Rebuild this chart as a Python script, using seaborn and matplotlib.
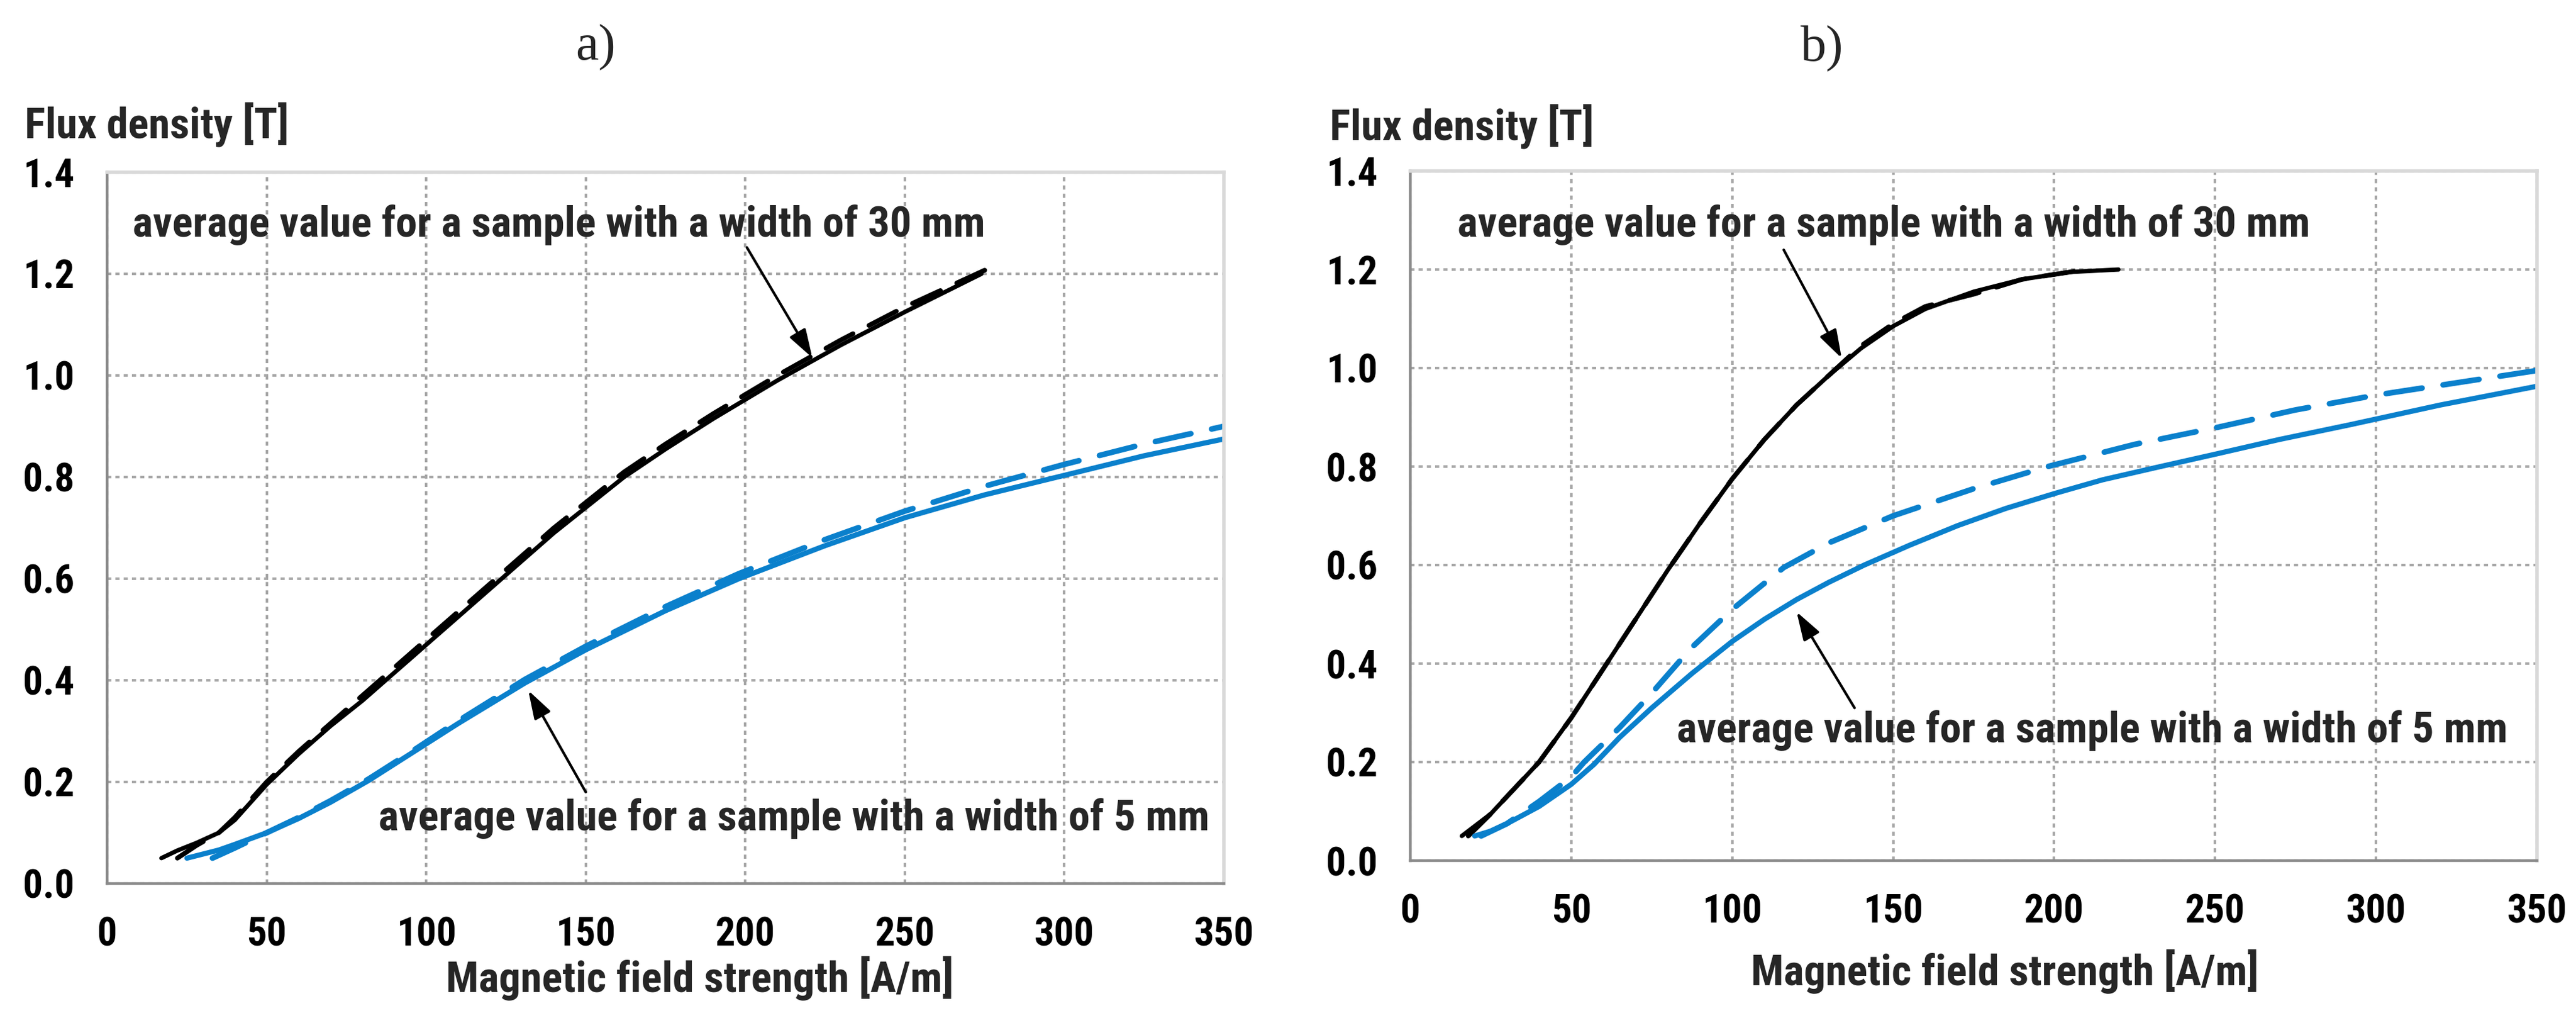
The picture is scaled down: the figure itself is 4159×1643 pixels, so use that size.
import numpy as np
import pandas as pd
import matplotlib
matplotlib.use("Agg")
import matplotlib.pyplot as plt
from matplotlib import font_manager
import seaborn as sns

# ---------------- data ----------------
# Panel a
a_H30_solid = [17, 22, 28, 35, 40, 45, 50, 60, 70, 80, 90, 100, 110, 120, 130, 140, 150, 162, 175, 190, 210, 230, 250, 274]
a_B30_solid = [0.05, 0.065, 0.08, 0.10, 0.125, 0.16, 0.195, 0.255, 0.31, 0.36, 0.415, 0.47, 0.525, 0.58, 0.635, 0.69, 0.74, 0.80, 0.855, 0.915, 0.99, 1.06, 1.125, 1.20]
a_H30_dash = [22, 28, 35, 40, 45, 50, 60, 70, 80, 90, 100, 110, 120, 130, 140, 150, 162, 175, 190, 210, 230, 250, 276]
a_B30_dash = [0.05, 0.075, 0.10, 0.13, 0.165, 0.20, 0.26, 0.315, 0.37, 0.425, 0.48, 0.535, 0.59, 0.645, 0.70, 0.75, 0.81, 0.865, 0.925, 1.00, 1.07, 1.135, 1.21]
a_H5_solid = [25, 30, 35, 40, 50, 60, 70, 82, 95, 110, 131, 150, 175, 198, 225, 250, 275, 301, 325, 350]
a_B5_solid = [0.05, 0.058, 0.066, 0.077, 0.10, 0.128, 0.16, 0.203, 0.255, 0.315, 0.395, 0.46, 0.537, 0.60, 0.665, 0.72, 0.765, 0.805, 0.842, 0.875]
a_H5_dash = [33, 40, 50, 60, 70, 82, 95, 110, 131, 150, 175, 198, 225, 250, 275, 300, 325, 350]
a_B5_dash = [0.05, 0.07, 0.10, 0.13, 0.163, 0.206, 0.258, 0.32, 0.402, 0.467, 0.545, 0.61, 0.677, 0.733, 0.782, 0.825, 0.865, 0.90]

# Panel b
b_H30_solid = [16, 20, 25, 30, 40, 50, 60, 70, 80, 90, 100, 110, 120, 130, 140, 150, 160, 175, 190, 205, 220]
b_B30_solid = [0.05, 0.07, 0.095, 0.13, 0.20, 0.29, 0.39, 0.49, 0.59, 0.685, 0.775, 0.855, 0.925, 0.985, 1.04, 1.085, 1.12, 1.155, 1.18, 1.195, 1.20]
b_H30_dash = [18, 25, 30, 40, 50, 60, 70, 80, 90, 100, 110, 120, 130, 140, 150, 160, 175, 190, 200, 210]
b_B30_dash = [0.05, 0.095, 0.13, 0.20, 0.29, 0.39, 0.49, 0.59, 0.685, 0.775, 0.855, 0.925, 0.985, 1.045, 1.09, 1.125, 1.15, 1.18, 1.19, 1.20]
b_H5_solid = [20, 25, 30, 40, 50, 57, 65, 75, 87.5, 100, 110, 120, 130, 141, 155, 170, 185, 200, 215, 233, 250, 270, 292, 320, 350]
b_B5_solid = [0.05, 0.06, 0.075, 0.11, 0.155, 0.195, 0.25, 0.31, 0.38, 0.445, 0.49, 0.53, 0.565, 0.60, 0.64, 0.68, 0.715, 0.745, 0.773, 0.80, 0.825, 0.855, 0.885, 0.925, 0.963]
b_H5_dash = [22, 30, 40, 50, 54, 65, 75, 87, 100, 116, 130, 150, 175, 198, 225, 251, 275, 300, 325, 350]
b_B5_dash = [0.05, 0.075, 0.12, 0.17, 0.20, 0.27, 0.34, 0.43, 0.51, 0.595, 0.645, 0.70, 0.755, 0.80, 0.845, 0.88, 0.915, 0.945, 0.97, 0.995]

x_ticks = [0, 50, 100, 150, 200, 250, 300, 350]
y_ticks = [0.0, 0.2, 0.4, 0.6, 0.8, 1.0, 1.2, 1.4]
y_ticklabels = ["0.0", "0.2", "0.4", "0.6", "0.8", "1.0", "1.2", "1.4"]
panel_titles = ["a)", "b)"]
y_label = "Flux density [T]"
x_label = "Magnetic field strength [A/m]"
ann_30 = "average value for a sample with a width of 30 mm"
ann_5 = "average value for a sample with a width of 5 mm"

# ---------------- style ----------------
sns.set_style("white")

def pick_font(cands):
    for c in cands:
        try:
            font_manager.findfont(font_manager.FontProperties(family=c), fallback_to_default=False)
            return c
        except Exception:
            continue
    return "DejaVu Sans"

narrow = pick_font(["Liberation Sans Narrow", "Arial Narrow", "Roboto Condensed", "Liberation Sans"])
serif = pick_font(["Liberation Serif", "DejaVu Serif"])
plt.rcParams["font.family"] = [narrow, "DejaVu Sans"]
is_narrow = narrow in ("Liberation Sans Narrow", "Arial Narrow", "Roboto Condensed")
scale = 1.0 if is_narrow else 0.85
FS_TICK = 46 * scale
FS_LAB = 50 * scale
FS_ANN = 50 * scale

BLACK = "#000000"
BLUE = "#0a80cc"
GRID = "#a6a6a6"
AXCOL = "#8a8a8a"
FRAME = "#d9d9d9"

W, H = 4159, 1643
fig = plt.figure(figsize=(W / 100, H / 100), dpi=100)

def frac(x0, y_top, x1, y_bot):
    return [x0 / W, 1 - y_bot / H, (x1 - x0) / W, (y_bot - y_top) / H]

ax_a = fig.add_axes(frac(173, 278, 1976, 1426))
ax_b = fig.add_axes(frac(2277, 276, 4096, 1389))

def draw_series(ax, xs, ys, color, lw, dashed):
    df = pd.DataFrame({"H": xs, "B": ys})
    sns.lineplot(data=df, x="H", y="B", ax=ax, color=color, linewidth=lw,
                 sort=False, estimator=None, legend=False)
    line = ax.lines[-1]
    line.set_solid_capstyle("round")
    line.set_solid_joinstyle("round")
    if dashed:
        line.set_dashes([6.5, 3.8])
        line.set_dash_capstyle("round")

def style_axes(ax):
    ax.set_xlim(0, 350)
    ax.set_ylim(0, 1.4)
    ax.set_xticks(x_ticks)
    ax.set_yticks(y_ticks)
    ax.set_xticklabels([str(v) for v in x_ticks])
    ax.set_yticklabels(y_ticklabels)
    ax.grid(True, color=GRID, linestyle=(0, (1.6, 1.6)), linewidth=3.0)
    ax.set_axisbelow(True)
    for s in ["left", "bottom"]:
        ax.spines[s].set_color(AXCOL)
        ax.spines[s].set_linewidth(3.2)
    for s in ["top", "right"]:
        ax.spines[s].set_color(FRAME)
        ax.spines[s].set_linewidth(4.0)
    ax.tick_params(axis="both", which="major", direction="out", length=14, width=3.0,
                   color=AXCOL, labelsize=FS_TICK, labelcolor="black")
    ax.tick_params(axis="x", pad=24)
    ax.tick_params(axis="y", pad=24)
    for lab in ax.get_xticklabels() + ax.get_yticklabels():
        lab.set_fontweight("bold")
    ax.set_xlabel("")
    ax.set_ylabel("")

# Panel a
draw_series(ax_a, a_H30_dash, a_B30_dash, BLACK, 5.5, True)
draw_series(ax_a, a_H30_solid, a_B30_solid, BLACK, 5.0, False)
draw_series(ax_a, a_H5_dash, a_B5_dash, BLUE, 6.5, True)
draw_series(ax_a, a_H5_solid, a_B5_solid, BLUE, 6.0, False)
style_axes(ax_a)

# Panel b
draw_series(ax_b, b_H30_dash, b_B30_dash, BLACK, 5.5, True)
draw_series(ax_b, b_H30_solid, b_B30_solid, BLACK, 5.0, False)
draw_series(ax_b, b_H5_dash, b_B5_dash, BLUE, 6.5, True)
draw_series(ax_b, b_H5_solid, b_B5_solid, BLUE, 6.0, False)
style_axes(ax_b)

arrow_kw = dict(arrowstyle="-|>,head_length=1.4,head_width=0.45", color="black", lw=3.0,
                shrinkA=0, shrinkB=0, mutation_scale=20)

# annotations panel a
ax_a.text(8, 1.296, ann_30, fontsize=FS_ANN, fontweight="bold", va="center", ha="left")
ax_a.annotate("", xy=(221, 1.035), xytext=(200.5, 1.252), arrowprops=arrow_kw)
ax_a.text(85, 0.128, ann_5, fontsize=FS_ANN, fontweight="bold", va="center", ha="left")
ax_a.annotate("", xy=(132, 0.38), xytext=(150, 0.18), arrowprops=arrow_kw)

# annotations panel b
ax_b.text(14.6, 1.29, ann_30, fontsize=FS_ANN, fontweight="bold", va="center", ha="left")
ax_b.annotate("", xy=(134, 1.02), xytext=(116, 1.24), arrowprops=arrow_kw)
ax_b.text(82.7, 0.264, ann_5, fontsize=FS_ANN, fontweight="bold", va="center", ha="left")
ax_b.annotate("", xy=(120, 0.505), xytext=(138, 0.31), arrowprops=arrow_kw)

# y labels (above axes), x labels, panel titles
fig.text(40 / W, 1 - 202 / H, y_label, fontsize=FS_LAB, fontweight="bold", ha="left", va="center")
fig.text(2147 / W, 1 - 205 / H, y_label, fontsize=FS_LAB, fontweight="bold", ha="left", va="center")
fig.text(1130 / W, 1 - 1579 / H, x_label, fontsize=FS_LAB, fontweight="bold", ha="center", va="center")
fig.text(3237 / W, 1 - 1568 / H, x_label, fontsize=FS_LAB, fontweight="bold", ha="center", va="center")
fig.text(962 / W, 1 - 77 / H, panel_titles[0], fontsize=60, family=[serif, "DejaVu Serif"],
         ha="center", va="center")
fig.text(2942 / W, 1 - 79 / H, panel_titles[1], fontsize=60, family=[serif, "DejaVu Serif"],
         ha="center", va="center")

fig.savefig("out.png", dpi=100, facecolor="white")
